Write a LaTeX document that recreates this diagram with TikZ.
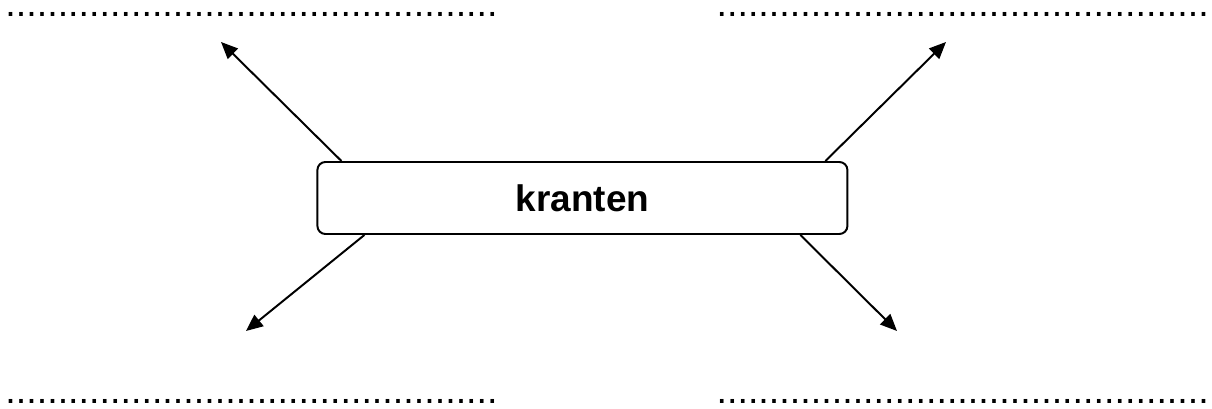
\documentclass[tikz,border=0pt]{standalone}
\usepackage{fontspec}
\setmainfont{Liberation Sans}
\usetikzlibrary{arrows.meta}

\begin{document}
\begin{tikzpicture}[line width=1.4pt,
	pijl/.style={-{Triangle[length=0.42cm,width=0.36cm]}},
	stippen/.style={inner sep=0pt, anchor=base west, text height=0.15cm, text depth=0pt,
		font=\fontsize{26.8}{30}\selectfont}]
	\useasboundingbox (0,0) rectangle (30.3,10.225);

	\node[draw, rounded corners=0.2cm, minimum width=13.25cm, minimum height=1.8cm,
		font=\fontsize{26.3}{30}\selectfont\bfseries] (krant) at (14.56,5.275) {kranten};

	\coordinate (tipnw) at (5.525,9.175);
	\coordinate (tipne) at (23.65,9.175);
	\coordinate (tipsw) at (6.15,1.95);
	\coordinate (tipse) at (22.425,1.95);

	\draw [pijl] ([xshift=0.625cm]krant.north west) -- (tipnw);
	\draw [pijl] ([xshift=-0.575cm]krant.north east) -- (tipne);
	\draw [pijl] ([xshift=1.2cm]krant.south west) -- (tipsw);
	\draw [pijl] ([xshift=-1.2cm]krant.south east) -- (tipse);

	\node[stippen] (dotnw) at (0.11,9.8) {...............................................};
	\node[stippen] (dotne) at (17.89,9.8) {...............................................};
	\node[stippen] (dotsw) at (0.11,0.125) {...............................................};
	\node[stippen] (dotse) at (17.89,0.125) {...............................................};
\end{tikzpicture}
\end{document}
